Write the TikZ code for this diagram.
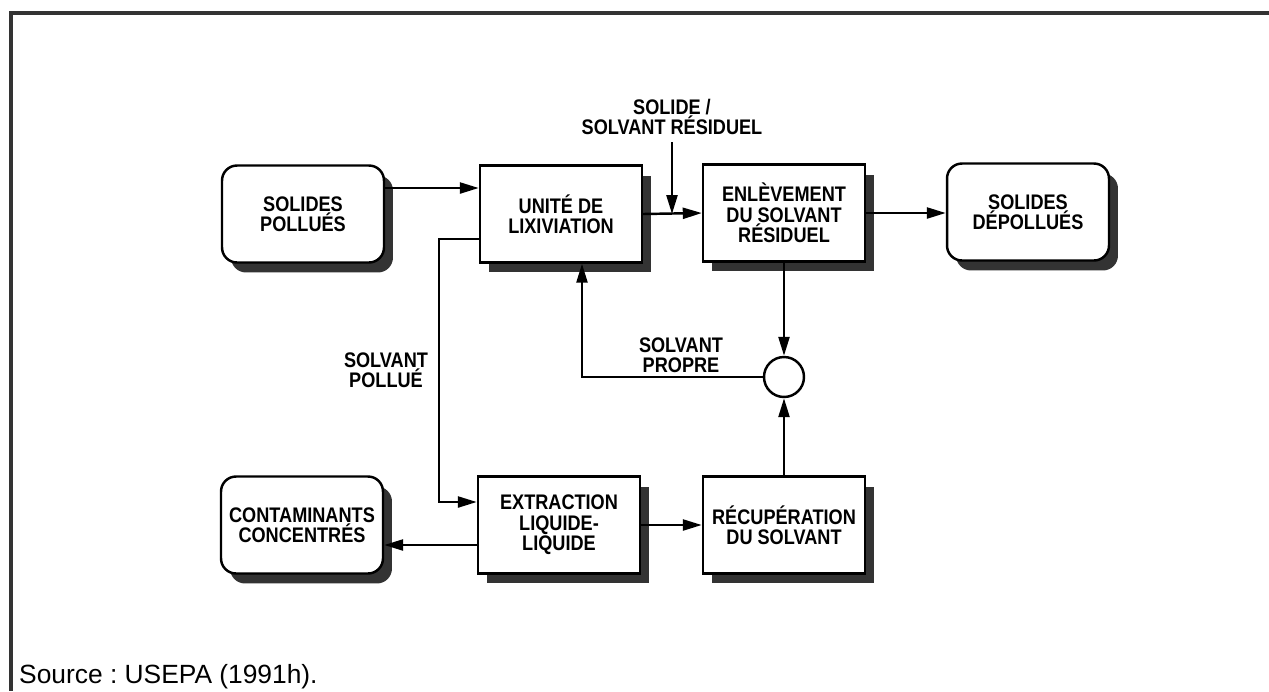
\documentclass[tikz,border=0pt]{standalone}
\usepackage{fontspec}
\setmainfont{Liberation Sans}
\newfontfamily\labelfont[FakeStretch=0.86]{Liberation Sans}
\usetikzlibrary{arrows.meta,shadows}

\begin{document}
\begin{tikzpicture}[x=0.02cm,y=-0.02cm,>={Triangle[length=0.38cm,width=0.22cm]},line width=1.4pt,
  box/.style={draw,fill=white,align=center,minimum width=3.24cm,minimum height=1.94cm,
    font=\labelfont\bfseries\fontsize{12}{11.6}\selectfont,
    drop shadow={fill=black!80,opacity=1,shadow xshift=0.18cm,shadow yshift=-0.2cm}},
  rbox/.style={box,rounded corners=0.3cm},
  lbl/.style={align=center,font=\labelfont\bfseries\fontsize{12}{11.6}\selectfont}]
\useasboundingbox (0,0) rectangle (1269,691);
\draw[black!80,line width=0.08cm] (1269,13) -- (11,13) -- (11,691);

\node[rbox] (spol) at (303,214) {SOLIDES\\ POLLUÉS};
\node[box] (unite) at (561,214) {UNITÉ DE\\ LIXIVIATION};
\node[box] (enlev) at (784,213) {ENLÈVEMENT\\ DU SOLVANT\\ RÉSIDUEL};
\node[rbox] (sdep) at (1028,212) {SOLIDES\\ DÉPOLLUÉS};
\node[rbox] (cont) at (302,525) {CONTAMINANTS\\ CONCENTRÉS};
\node[box] (extr) at (559,525) {EXTRACTION\\ LIQUIDE-\\ LIQUIDE};
\node[box] (recup) at (784,525) {RÉCUPÉRATION\\ DU SOLVANT};
\node[circle,draw,minimum size=0.8cm] (mix) at (784,377) {};

\node[lbl] (res) at (672,117) {SOLIDE /\\ SOLVANT RÉSIDUEL};
\node[lbl] (propre) at (681,355) {SOLVANT\\ PROPRE};
\node[lbl] (pollue) at (386,370) {SOLVANT\\ POLLUÉ};
\node[anchor=base west,inner sep=0pt,font=\frenchspacing\fontsize{15}{17}\selectfont] (src) at (18,683) {Source : USEPA (1991h).};

\draw[->] ([yshift=0.52cm]spol.east) -- ([yshift=0.52cm]unite.west);
\draw[->] (unite.east) -- (enlev.west);
\draw[->] (res) -- (res |- unite.east);
\draw[->] (enlev.east) -- (enlev.east -| sdep.west);
\draw[->] (enlev.south) -- (mix.north);
\draw[->] (recup.north) -- (mix.south);
\draw[->] (mix.west) -| ([xshift=0.42cm]unite.south);
\draw[->] ([yshift=-0.5cm]unite.west) -- ++(-40,0) |- ([yshift=0.46cm]extr.west);
\draw[->] (extr.east) -- (extr.east -| recup.west);
\draw[->] ([yshift=-0.4cm]extr.west) -- ([yshift=-0.4cm]extr.west -| cont.east);
\end{tikzpicture}
\end{document}
